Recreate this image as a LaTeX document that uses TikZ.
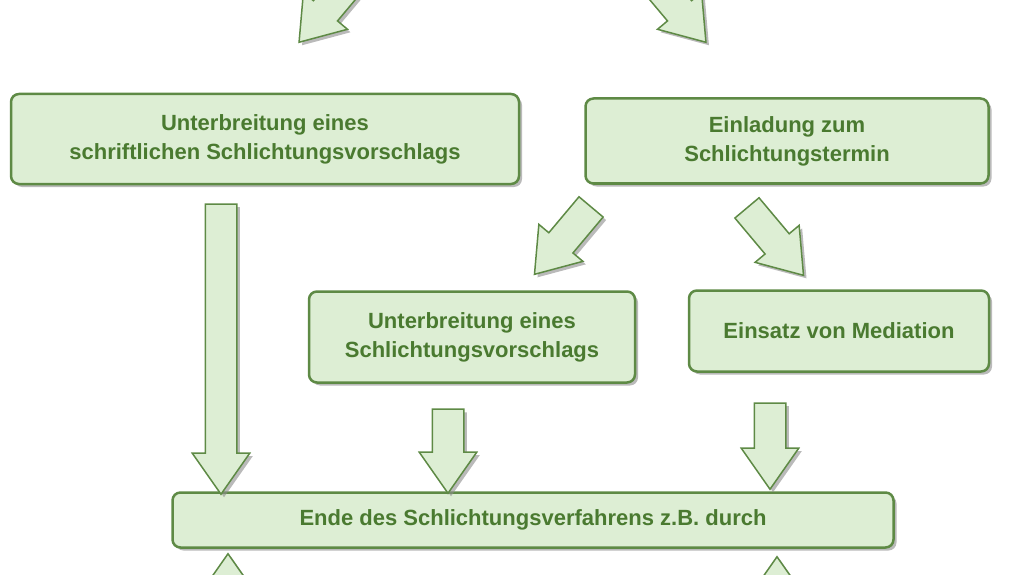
\documentclass[tikz,border=0pt]{standalone}
\usepackage{fontspec}
\setmainfont{Liberation Sans}
\usetikzlibrary{shapes.arrows,shadows}
\definecolor{bfill}{HTML}{DDEED4}
\definecolor{bdraw}{HTML}{5E8A45}
\definecolor{btext}{HTML}{4A7A30}
\begin{document}
\begin{tikzpicture}[x=1pt,y=-1pt,
 box/.style={draw=bdraw,line width=2.5pt,fill=bfill,rounded corners=8pt,text=btext,
   font=\bfseries\fontsize{22}{29}\selectfont,align=center,inner sep=0pt,
   drop shadow={shadow xshift=3pt,shadow yshift=-3pt,fill=black!45,opacity=0.6}},
 barrow/.style={single arrow,draw=bdraw,line width=1.5pt,fill=bfill,inner xsep=0pt,
   inner ysep=#1,text height=0pt,text depth=0pt,minimum width=0pt,
   single arrow head extend=13pt,single arrow tip angle=70,
   drop shadow={shadow xshift=3pt,shadow yshift=-3pt,fill=black!45,opacity=0.6}},
 barrow/.default=15pt]
\useasboundingbox (0,0) rectangle (1023,575);
\begin{scope}
\clip (0,0) rectangle (1023,575);
\node[box,minimum width=508pt,minimum height=90pt] (a) at (265,139) {Unterbreitung eines\\schriftlichen Schlichtungsvorschlags};
\node[box,minimum width=403pt,minimum height=85pt] (b) at (787,141) {Einladung zum\\Schlichtungstermin};
\node[box,minimum width=326pt,minimum height=91pt] (c) at (472,337) {Unterbreitung eines\\Schlichtungsvorschlags};
\node[box,minimum width=300pt,minimum height=81pt] (d) at (839,331) {Einsatz von Mediation};
\node[box,minimum width=721pt,minimum height=55pt] (e) at (533,520) {Ende des Schlichtungsverfahrens z.B. durch};
\node[barrow,minimum height=290pt,rotate=-90] (a1) at (221,338) {};
\node[barrow,minimum height=84pt,rotate=-90] (a2) at (448,440) {};
\node[barrow,minimum height=86pt,rotate=-90] (a3) at (770,435) {};
\node[barrow,minimum height=88pt,rotate=-130] (a4) at (570,232) {};
\node[barrow,minimum height=88pt,rotate=-50] (a5) at (768,233) {};
\node[barrow,minimum height=80pt,rotate=-130] (a6) at (332,3) {};
\node[barrow,minimum height=80pt,rotate=-50] (a7) at (673,3) {};
\node[barrow,minimum height=80pt,rotate=90] (a8) at (228,605) {};
\node[barrow,minimum height=80pt,rotate=90] (a9) at (777,608) {};
\end{scope}
\end{tikzpicture}
\end{document}
